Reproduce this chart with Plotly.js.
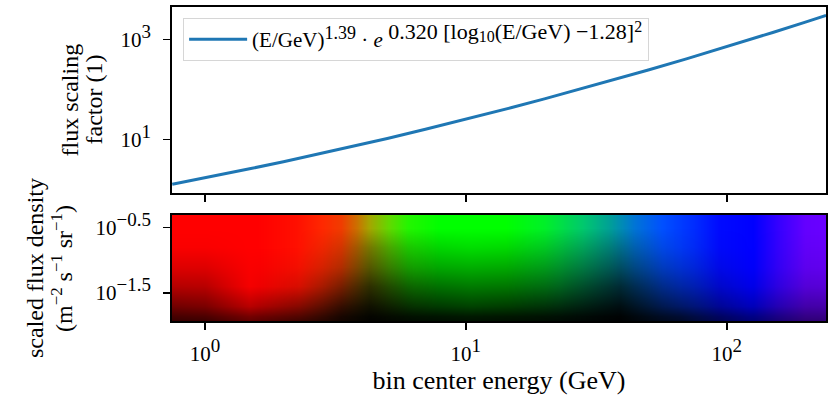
<!DOCTYPE html>
<html>
<head>
<meta charset="utf-8">
<script src="https://cdn.plot.ly/plotly-3.0.1.min.js"></script>
<style>html,body{margin:0;padding:0;background:#fff;}</style>
</head>
<body>
<div id="chart" style="width:828px;height:399px;"></div>
<script>
// ---- top panel: flux scaling factor vs bin center energy ----
const energy = [0.75, 1, 1.5, 2, 3, 5, 7, 10, 15, 20, 30, 50, 70, 100, 150, 200, 240];
const scalingFactor = [1.26, 1.69, 2.60, 3.56, 5.66, 10.4, 15.9, 25.2, 43.3, 64.3, 114.5, 243, 407, 711, 1369, 2204, 2998];
const lineName = "(E/GeV)<sup><span style='font-size:18px'>1.39</span></sup> · <i>e</i>" +
                 "<sup><span style='font-size:22px'> 0.320 [log</span>" +
                 "<sub><span style='font-size:16px'>10</span></sub>" +
                 "<span style='font-size:22px'>(E/GeV) −1.28]</span>" +
                 "<sup><span style='font-size:16px'>2</span></sup></sup>";

// axis titles
const topYTitle = ["flux scaling", "factor (1)"];
const botYTitle = ["scaled flux density", "(m<sup>−2</sup> s<sup>−1</sup> sr<sup>−1</sup>)"];
const xTitle = "bin center energy (GeV)";

// ---- bottom panel: colour image of scaled flux density ----
// hue (colour at the top of the image) along energy
const hueEnergy = [0.631, 1.585, 2.239, 2.818, 3.311, 3.802, 4.266, 5.012, 6.026, 7.943, 14.13, 19.95,
                   28.18, 35.48, 44.67, 56.23, 74.13, 93.33, 125.9, 158.5, 199.5, 281.8];
const hueColors = ["rgb(255,0,0)", "rgb(255,0,0)", "rgb(255,15,0)", "rgb(255,40,0)", "rgb(240,60,0)",
                   "rgb(205,110,0)", "rgb(165,165,0)", "rgb(100,215,0)", "rgb(35,245,0)", "rgb(0,255,0)",
                   "rgb(0,255,0)", "rgb(0,240,40)", "rgb(0,200,110)", "rgb(0,160,150)", "rgb(0,115,215)",
                   "rgb(0,80,255)", "rgb(0,45,255)", "rgb(0,10,255)", "rgb(0,0,255)", "rgb(55,0,255)",
                   "rgb(100,0,255)", "rgb(110,0,255)"];
// darkness (0 = full colour, 1 = black) over energy x flux density
const darkEnergy = [0.631, 1.0, 1.479, 2.291, 3.311, 4.266, 6.31, 10.47, 22.9, 38.9, 66.1, 123, 209, 282];
const darkFlux = [0.5623, 0.3162, 0.1585, 0.0794, 0.0398, 0.0200, 0.0141, 0.0100];
const darkness = [
  [0, 0, 0, 0, 0, 0, 0, 0, 0, 0, 0, 0, 0, 0],
  [0, 0, 0, 0, 0, 0, 0, 0, 0, 0, 0, 0, 0, 0],
  [0.02, 0.02, 0, 0, 0.12, 0.28, 0.18, 0.13, 0.17, 0.22, 0.05, 0, 0.03, 0.03],
  [0.13, 0.13, 0.02, 0.05, 0.26, 0.48, 0.36, 0.32, 0.36, 0.45, 0.18, 0.02, 0.07, 0.07],
  [0.3, 0.28, 0.04, 0.16, 0.5, 0.72, 0.58, 0.52, 0.56, 0.7, 0.36, 0.09, 0.16, 0.16],
  [0.58, 0.52, 0.28, 0.48, 0.78, 0.9, 0.8, 0.74, 0.8, 0.9, 0.6, 0.27, 0.34, 0.34],
  [0.74, 0.7, 0.54, 0.68, 0.9, 0.97, 0.93, 0.9, 0.93, 0.98, 0.8, 0.48, 0.48, 0.48],
  [0.85, 0.85, 0.7, 0.85, 0.95, 1, 0.98, 0.97, 0.98, 1, 0.9, 0.6, 0.6, 0.6]
];

// ticks
const xTickVals = [1, 10, 100];
const xTickExp = ["0", "1", "2"];
const yTopTickVals = [10, 1000];
const yTopTickExp = ["1", "3"];
const yBotTickVals = [0.31623, 0.031623];
const yBotTickExp = ["−0.5", "−1.5"];
const pow10 = e => "10<sup><span style='font-size:19px'>" + e + "</span></sup>";

// build hue heatmap
const hueIdx = hueEnergy.map((_, i) => i);
const hueScale = hueColors.map((c, i) => [i / (hueColors.length - 1), c]);

const serif = "Liberation Serif";
const traces = [
  {
    type: "heatmap", x: hueEnergy, y: [0.005, 1.0], z: [hueIdx, hueIdx],
    colorscale: hueScale, zmin: 0, zmax: hueColors.length - 1, zsmooth: "best",
    showscale: false, hoverinfo: "skip", xaxis: "x2", yaxis: "y2", showlegend: false
  },
  {
    type: "heatmap", x: darkEnergy, y: darkFlux, z: darkness,
    colorscale: [[0, "rgba(0,0,0,0)"], [1, "rgba(0,0,0,1)"]], zmin: 0, zmax: 1, zsmooth: "best",
    showscale: false, hoverinfo: "skip", xaxis: "x2", yaxis: "y2", showlegend: false
  },
  {
    type: "scatter", mode: "lines", x: energy, y: scalingFactor, name: lineName,
    line: {color: "#1f77b4", width: 3}, xaxis: "x", yaxis: "y", showlegend: true
  }
];

const axisCommon = {
  showline: true, linecolor: "#000", linewidth: 1.8, mirror: true,
  ticks: "outside", ticklen: 7, tickwidth: 1.5, tickcolor: "#000",
  showgrid: false, zeroline: false,
  tickfont: {family: serif, size: 21, color: "#000"}
};
const xRange = [-0.126, 2.38];
const titleFont = {family: serif, size: 24, color: "#000"};

function yTitleAnn(text, xPaper, yPaper) {
  return {text: text, xref: "paper", yref: "paper", x: xPaper, y: yPaper,
          xanchor: "center", yanchor: "middle", textangle: -90, showarrow: false, font: titleFont};
}

const layout = {
  width: 828, height: 399,
  margin: {l: 172, r: 2, t: 7, b: 78},
  paper_bgcolor: "#fff", plot_bgcolor: "#fff",
  font: {family: serif, color: "#000"},
  showlegend: true,
  legend: {
    x: 0.017, y: 0.965, xanchor: "left", yanchor: "top",
    bgcolor: "rgba(255,255,255,0.9)", bordercolor: "#d6d6d6", borderwidth: 1,
    itemwidth: 58, tracegroupgap: 0,
    font: {family: serif, size: 21, color: "#000"}
  },
  xaxis: Object.assign({}, axisCommon, {
    type: "log", range: xRange, domain: [0, 1], anchor: "y",
    tickvals: xTickVals, showticklabels: false
  }),
  yaxis: Object.assign({}, axisCommon, {
    type: "log", range: [-0.074, 3.646], domain: [0.4076, 1], anchor: "x",
    tickvals: yTopTickVals, ticktext: yTopTickExp.map(pow10), ticklabelstandoff: 8
  }),
  xaxis2: Object.assign({}, axisCommon, {
    type: "log", range: xRange, domain: [0, 1], anchor: "y2",
    tickvals: xTickVals, ticktext: xTickExp.map(pow10), ticklabelstandoff: 6,
    title: {text: xTitle, font: {family: serif, size: 26, color: "#000"}, standoff: 6}
  }),
  yaxis2: Object.assign({}, axisCommon, {
    type: "log", range: [-1.931, -0.305], domain: [0, 0.3376], anchor: "x2",
    tickvals: yBotTickVals, ticktext: yBotTickExp.map(pow10), ticklabelstandoff: 8
  }),
  annotations: [
    yTitleAnn(topYTitle[0], -0.1552, 0.7038),
    yTitleAnn(topYTitle[1], -0.1185, 0.7038),
    yTitleAnn(botYTitle[0], -0.2095, 0.1688),
    yTitleAnn(botYTitle[1], -0.1682, 0.1688)
  ]
};

Plotly.newPlot("chart", traces, layout, {staticPlot: true, displayModeBar: false});
</script>
</body>
</html>
